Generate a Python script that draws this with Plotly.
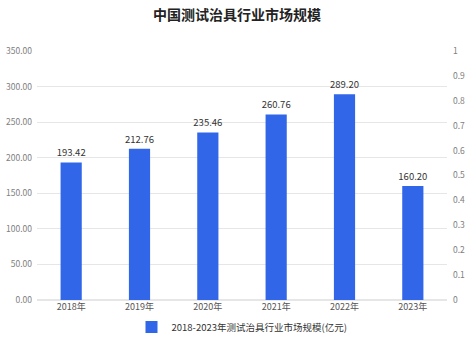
import plotly.graph_objects as go

categories = ["2018年", "2019年", "2020年", "2021年", "2022年", "2023年"]
values = [193.42, 212.76, 235.46, 260.76, 289.20, 160.20]
series_name = "2018-2023年测试治具行业市场规模(亿元)"
left_ticks = [0, 50, 100, 150, 200, 250, 300, 350]
right_ticks = [0, 0.1, 0.2, 0.3, 0.4, 0.5, 0.6, 0.7, 0.8, 0.9, 1]

font_family = "Noto Sans CJK SC, Noto Sans, sans-serif"

fig = go.Figure()
fig.add_trace(go.Bar(
    x=categories, y=values, name=series_name,
    marker=dict(color="#3166E8", line=dict(width=0)),
    text=[f"{v:.2f}" for v in values], textposition="outside",
    constraintext="none",
    textfont=dict(size=9.5, color="#333333"), cliponaxis=False,
))
fig.add_trace(go.Scatter(x=categories, y=[None]*len(categories), yaxis="y2",
                         showlegend=False, hoverinfo="skip"))

fig.update_layout(
    width=474, height=343,
    margin=dict(l=37, r=27, t=51, b=43, autoexpand=False),
    paper_bgcolor="white", plot_bgcolor="white",
    font=dict(family=font_family, size=9, color="#666666"),
    title=dict(text="<b>中国测试治具行业市场规模</b>", x=0.5, xanchor="center",
               y=1 - 15/343, yanchor="middle",
               font=dict(size=14, color="#222222", family=font_family)),
    bargap=0.69,
    xaxis=dict(showline=False, showgrid=False, ticks="", automargin=False,
               tickfont=dict(size=9, color="#555555")),
    yaxis=dict(range=[0, 350], tickvals=left_ticks,
               ticktext=[f"{t:.2f}" for t in left_ticks],
               showgrid=True, gridcolor="#E6E6E6", gridwidth=1, zeroline=True,
               zerolinecolor="#E6E6E6", showline=False, ticks="", automargin=False,
               ticklabelstandoff=4,
               tickfont=dict(size=8.5, color="#808080")),
    yaxis2=dict(range=[0, 1], tickvals=right_ticks,
                ticktext=[f"{t:g}" for t in right_ticks],
                overlaying="y", side="right", showgrid=False, zeroline=False,
                showline=False, ticks="", automargin=False, ticklabelstandoff=5,
                tickfont=dict(size=8.5, color="#808080")),
    legend=dict(orientation="h", x=0.5, xanchor="center", y=-0.05, yanchor="top",
                font=dict(size=9.5, color="#333333")),
    showlegend=True,
)

fig.write_html("out.html")
